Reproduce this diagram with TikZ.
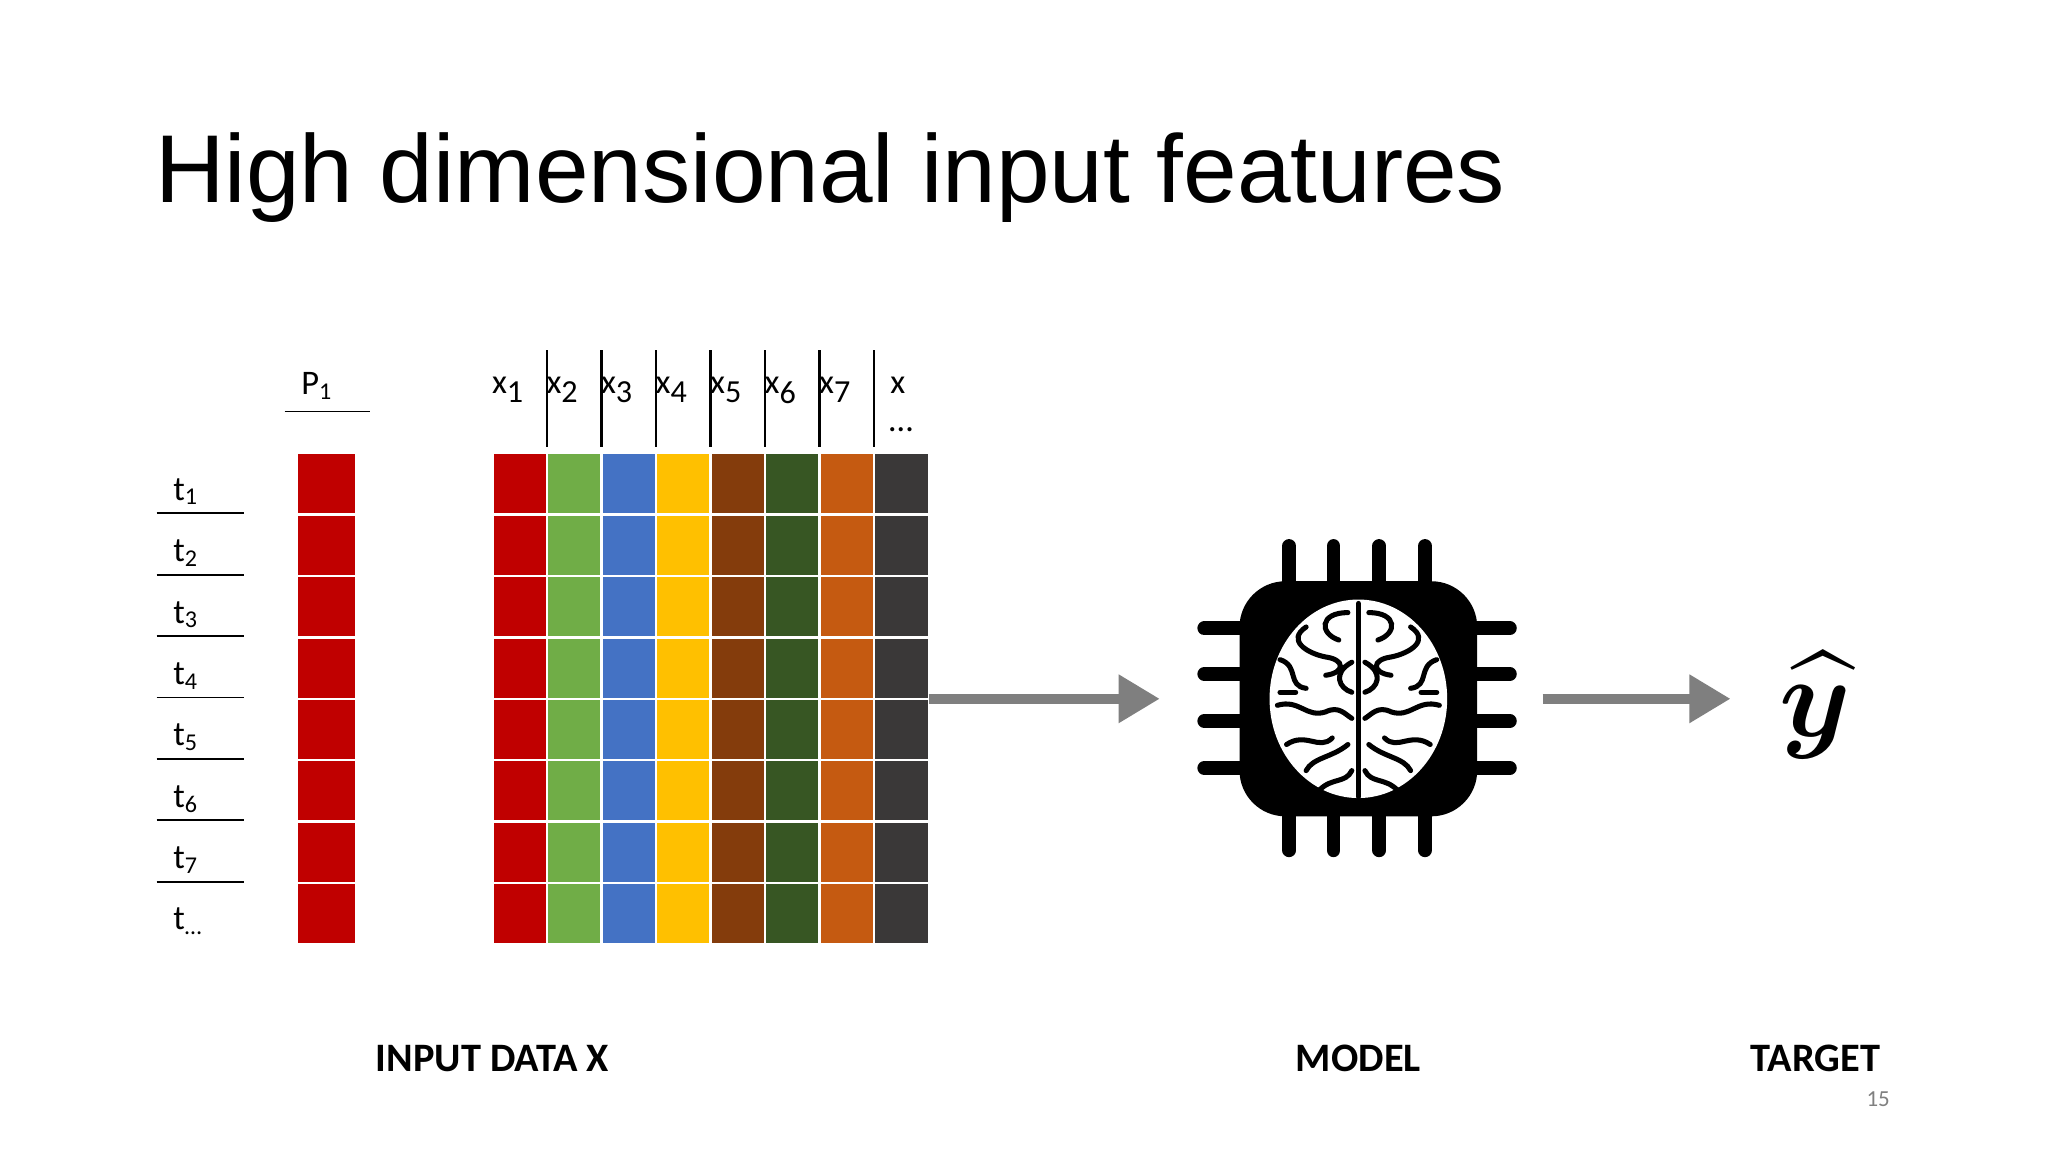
\documentclass[tikz,border=0pt]{standalone}
\usepackage{amsmath}
\usepackage{fontspec}
\setmainfont{Carlito}
\newfontfamily\arial{Liberation Sans}
\usetikzlibrary{arrows.meta}
\definecolor{cR}{HTML}{C00000}\definecolor{cG}{HTML}{70AD47}\definecolor{cB}{HTML}{4472C4}
\definecolor{cY}{HTML}{FFC000}\definecolor{cBr}{HTML}{843C0C}\definecolor{cDG}{HTML}{375623}
\definecolor{cO}{HTML}{C55A11}\definecolor{cK}{HTML}{3A3838}\definecolor{arr}{HTML}{7F7F7F}
\begin{document}
\begin{tikzpicture}[x=0.1mm,y=-0.1mm,
  cell/.style={draw=white,line width=0.5pt},
  lbl/.style={font=\fontsize{7.5}{9}\selectfont,anchor=base west},
  captxt/.style={font=\fontsize{8.8}{10}\selectfont\bfseries,anchor=base},
  bigarrow/.style={draw=arr,line width=2.3pt,-{Triangle[length=9pt,width=10pt]}},
  pin/.style={line width=3pt,line cap=round},
  wig/.style={line width=1.1pt,line cap=round}]
\useasboundingbox (0,0) rectangle (1568,882);
\fill[white] (0,0) rectangle (1568,882);
\node[font=\arial\fontsize{21}{24}\selectfont,anchor=base west,inner sep=0] (title) at (118,155) {High dimensional input features};
% time labels
\foreach \i/\s [count=\k from 0] in {1/1,2/2,3/3,4/4,5/5,6/6,7/7,8/{\ldots}}{
  \node[lbl,inner sep=0] (t\i) at (132,{383+47*\k}) {t\textsubscript{\s}};
}
\foreach \k in {0,...,6}{\draw[line width=0.4pt] (120,{393+47*\k}) -- (187,{393+47*\k});}
% P1
\node[lbl,inner sep=0] (p1) at (230,302) {P\textsubscript{1}};
\draw[line width=0.4pt] (218,315) -- (283,315);
\foreach \k in {0,...,7}{\fill[cR,cell] (227,{347+47*\k}) rectangle (273,{394+47*\k});}
% matrix
\foreach \c [count=\j from 0] in {cR,cG,cB,cY,cBr,cDG,cO,cK}{
  \foreach \k in {0,...,7}{
    \fill[\c,cell] ({377+41.75*\j},{347+47*\k}) rectangle ({377+41.75*(\j+1)},{394+47*\k});
  }
}
\node[coordinate] (mright) at (711,535) {};
% headers
\foreach \j in {1,...,7}{
  \node[lbl,inner sep=0] (x\j) at ({376+41.75*(\j-1)},301) {x\textsubscript{\scriptsize\j}};
  \draw[line width=0.5pt] ({377+41.75*\j},268) -- ({377+41.75*\j},342);
}
\node[lbl,inner sep=0] (x8) at (681,301) {x};
\node[lbl,inner sep=0] (x8d) at (680,330) {\ldots};
% arrows
\coordinate (a1e) at (888,535);
\draw[bigarrow] (mright) -- (a1e);
% chip
\node[fill=black,rounded corners=10pt,minimum width=18.2mm,minimum height=18mm,inner sep=0] (chip) at (1040,535) {};
\foreach \x in {987,1021,1056,1091}{
  \draw[pin] (\x,418) -- (\x,450); \draw[pin] (\x,620) -- (\x,651);}
\foreach \y in {481,516,552,588}{
  \draw[pin] (922,\y) -- (955,\y); \draw[pin] (1125,\y) -- (1156,\y);}
\fill[white] (1040,535) ellipse (68 and 76);
\draw[wig] (1040,462) -- (1040,610);
\foreach \s in {1,-1}{
 \begin{scope}[shift={(1040,535)},xscale=\s]
  \draw[wig] (-8,-66) .. controls (-30,-66) and (-30,-50) .. (-15,-45);
  \draw[wig] (-40,-55) .. controls (-55,-45) and (-40,-35) .. (-25,-32) .. controls (-10,-30) and (-10,-20) .. (-25,-18);
  \draw[wig] (-60,-30) .. controls (-45,-25) and (-55,-10) .. (-40,-8);
  \draw[wig] (-5,-28) .. controls (-20,-20) and (-15,-8) .. (-5,-5);
  \draw[wig] (-62,5) .. controls (-45,0) and (-40,15) .. (-25,10) .. controls (-15,5) and (-10,12) .. (-5,15);
  \draw[wig] (-55,35) .. controls (-40,25) and (-30,40) .. (-20,30);
  \draw[wig] (-8,35) .. controls (-20,45) and (-35,45) .. (-40,55);
  \draw[wig] (-30,70) .. controls (-20,60) and (-10,65) .. (-5,55);
  \draw[wig] (-60,-5) -- (-48,-5);
 \end{scope}
}
\coordinate (a2s) at (1181,535); \coordinate (a2e) at (1325,535);
\draw[bigarrow] (a2s) -- (a2e);
\node[font=\fontsize{26}{30}\selectfont] (yhat) at (1390,540) {$\boldsymbol{\widehat{y}}$};
% captions
\node[captxt] (c1) at (377,820) {INPUT DATA X};
\node[captxt] (c2) at (1040,820) {MODEL};
\node[captxt] (c3) at (1390,820) {TARGET};
\node[font=\fontsize{5}{6}\selectfont,text=gray,anchor=base] (pg) at (1438,847) {15};
\end{tikzpicture}
\end{document}
